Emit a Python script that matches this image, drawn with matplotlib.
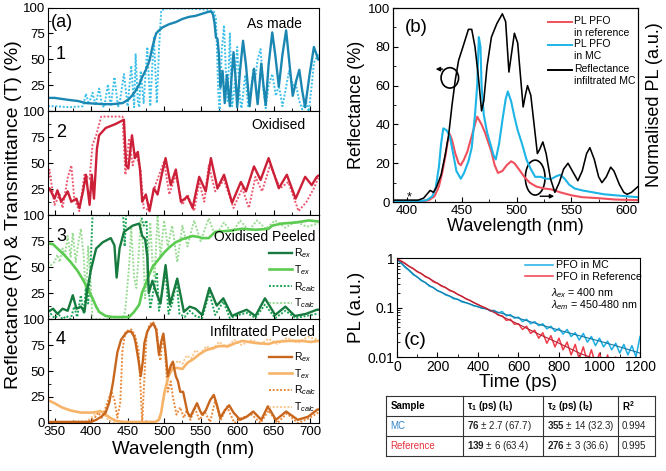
import matplotlib
matplotlib.use("Agg")
import matplotlib.pyplot as plt
from matplotlib.patches import Ellipse
from matplotlib.ticker import MultipleLocator, FixedLocator, NullFormatter

plt.rcParams["font.family"] = ["Liberation Sans", "DejaVu Sans"]
plt.rcParams["mathtext.fontset"] = "custom"
plt.rcParams["mathtext.rm"] = "Liberation Sans"
plt.rcParams["mathtext.it"] = "Liberation Sans:italic"
plt.rcParams["mathtext.bf"] = "Liberation Sans:bold"

# ---------------- panel (a) data: (wavelength nm, %) ----------------
AS_MADE_EX = [(341, 13), (350, 13), (360, 12), (370, 11), (382, 10), (393, 8), (405, 7.5), (416, 7), (430, 7),
              (443, 8), (448, 10), (452, 12), (457, 16), (462, 21), (466, 26), (470, 33), (475, 40), (480, 49),
              (484, 62), (489, 75), (493, 78), (498, 81), (507, 84), (516, 86), (525, 89), (534, 91), (543, 92),
              (552, 94), (561, 96), (565, 96), (567, 93), (569, 85), (571, 71), (573, 70), (575, 55), (577, 23),
              (580, 39), (583, 8), (586, 35), (590, 5), (592, 30), (595, 57), (598, 30), (600, 4), (604, 40),
              (608, 68), (612, 45), (617, 5), (620, 25), (623, 41), (626, 20), (628, 7), (631, 30), (633, 46),
              (636, 25), (639, 6), (643, 45), (648, 76), (652, 55), (657, 24), (662, 55), (667, 78), (671, 50),
              (676, 15), (681, 30), (685, 40), (689, 20), (693, 4), (699, 35), (705, 62), (711, 50)]
AS_MADE_CALC = [(341, 5), (350, 5), (370, 4), (389, 5), (393, 17), (397, 7), (402, 18), (406, 6), (411, 22),
                (415, 6), (418, 4), (423, 26), (427, 5), (432, 33), (437, 4), (440, 12), (445, 36), (450, 5),
                (455, 44), (459, 4), (461, 55), (464, 10), (466, 4), (468, 39), (472, 8), (477, 62), (481, 5),
                (486, 72), (490, 8), (493, 60), (496, 97), (502, 99), (530, 99), (561, 98), (568, 96), (571, 90),
                (574, 20), (576, 0), (579, 60), (582, 83), (585, 30), (587, 10), (590, 75), (593, 5), (596, 20),
                (600, 62), (604, 10), (606, 3), (611, 35), (615, 5), (618, 15), (622, 40), (625, 33), (628, 50),
                (632, 60), (636, 20), (639, 3), (643, 25), (648, 36), (653, 15), (657, 25), (662, 5), (666, 20),
                (671, 39), (676, 25), (680, 27), (685, 10), (689, 2), (694, 10), (698, 0), (702, 25), (705, 47),
                (711, 55)]

OXIDISED_EX = [(341, 23), (343, 26), (350, 16), (354, 24), (359, 13), (364, 18), (368, 23), (373, 13), (380, 16),
               (384, 7), (389, 23), (393, 39), (398, 10), (401, 39), (404, 16), (408, 64), (411, 77), (420, 84),
               (434, 88), (445, 92), (448, 48), (451, 45), (456, 77), (460, 55), (464, 61), (467, 44), (470, 13),
               (475, 20), (480, 4), (486, 26), (491, 20), (497, 40), (502, 55), (509, 29), (516, 44), (523, 13),
               (532, 18), (539, 7), (548, 37), (557, 23), (564, 55), (573, 26), (582, 39), (593, 12), (605, 32),
               (612, 23), (623, 47), (632, 34), (643, 55), (657, 26), (668, 39), (680, 16), (693, 37), (702, 29),
               (709, 37), (711, 38)]
OXIDISED_CALC = [(341, 32), (343, 44), (350, 10), (357, 20), (361, 7), (368, 36), (373, 48), (377, 16), (384, 4),
                 (391, 39), (398, 35), (402, 68), (407, 77), (414, 95), (443, 95), (447, 39), (452, 74), (457, 48),
                 (461, 61), (468, 42), (472, 7), (479, 5), (488, 29), (500, 52), (507, 20), (516, 39), (525, 10),
                 (532, 20), (541, 4), (548, 32), (555, 13), (561, 48), (570, 23), (582, 34), (595, 7), (607, 26),
                 (616, 7), (625, 37), (634, 23), (645, 48), (659, 26), (670, 32), (684, 4), (695, 13), (705, 26),
                 (711, 36)]

OXP_REX = [(341, 7), (348, 10), (354, 5), (361, 10), (368, 8), (375, 23), (380, 10), (386, 12), (391, 7),
           (395, 29), (400, 48), (407, 68), (416, 74), (427, 78), (432, 71), (435, 40), (439, 68), (445, 84),
           (457, 90), (466, 92), (470, 80), (474, 77), (477, 60), (479, 25), (484, 37), (488, 28), (495, 15),
           (502, 52), (508, 14), (518, 39), (527, 7), (535, 12), (543, 10), (552, 4), (562, 30), (572, 13),
           (581, 20), (593, 3), (602, 6), (613, 9), (625, 3), (638, 20), (652, 4), (666, 12), (679, 3), (694, 5),
           (709, 9), (711, 9)]
OXP_TEX = [(341, 73), (348, 72), (354, 68), (363, 62), (372, 55), (381, 47), (388, 39), (395, 30), (402, 20),
           (407, 12), (411, 7), (420, 3), (430, 2), (443, 2), (452, 2), (459, 7), (466, 14), (470, 26), (475, 34),
           (479, 42), (484, 50), (493, 58), (500, 64), (507, 69), (516, 74), (525, 77), (539, 80), (548, 79),
           (552, 78), (561, 78), (570, 84), (588, 85), (607, 87), (625, 86), (643, 87), (648, 90), (661, 92),
           (680, 93), (698, 95), (711, 94)]
OXP_RCALC = [(341, 2), (345, 5), (350, 1), (356, 4), (361, 0), (366, 3), (372, 0), (377, 12), (381, 2), (386, 23),
             (390, 5), (393, 30), (396, 15), (399, 45), (402, 100), (444, 100), (446, 70), (448, 100), (468, 100),
             (472, 90), (476, 95), (478, 40), (481, 10), (486, 30), (490, 45), (493, 8), (496, 20), (502, 47),
             (506, 5), (511, 15), (517, 37), (521, 5), (528, 2), (535, 8), (543, 3), (552, 1), (562, 25), (570, 4),
             (581, 17), (590, 1), (602, 4), (613, 6), (625, 1), (638, 14), (652, 1), (666, 8), (680, 1), (694, 3),
             (709, 5), (711, 5)]
OXP_TCALC = [(341, 55), (345, 52), (350, 55), (354, 62), (357, 55), (361, 68), (364, 60), (368, 80), (372, 60),
             (375, 83), (379, 55), (383, 75), (386, 87), (390, 60), (393, 20), (396, 70), (399, 40), (402, 0),
             (444, 0), (447, 10), (452, 50), (455, 87), (459, 40), (462, 30), (465, 60), (468, 96), (471, 70),
             (474, 20), (477, 50), (481, 93), (484, 55), (487, 40), (491, 100), (495, 60), (500, 95), (505, 70),
             (511, 90), (518, 55), (525, 90), (532, 70), (541, 95), (550, 75), (561, 97), (570, 80), (582, 93),
             (593, 83), (604, 95), (616, 85), (627, 95), (639, 87), (652, 95), (666, 88), (680, 94), (695, 89),
             (711, 92)]

INF_REX = [(341, 1), (360, 1), (380, 1), (400, 1), (407, 3), (414, 6), (420, 10), (425, 20), (430, 39), (436, 68),
           (441, 80), (445, 84), (450, 88), (455, 88), (459, 83), (461, 77), (465, 60), (468, 45), (471, 60),
           (473, 77), (477, 88), (480, 92), (485, 96), (489, 90), (493, 66), (496, 78), (499, 86), (502, 68),
           (505, 45), (509, 55), (512, 59), (516, 45), (519, 40), (522, 30), (526, 30), (529, 20), (532, 10),
           (536, 6), (540, 12), (545, 19), (549, 12), (552, 8), (557, 12), (563, 22), (568, 27), (572, 18),
           (577, 5), (583, 12), (589, 17), (595, 10), (604, 3), (613, 6), (622, 11), (633, 3), (642, 16),
           (653, 3), (667, 11), (683, 3), (697, 6), (710, 13), (711, 13)]
INF_TEX = [(341, 22), (350, 19), (360, 15), (372, 12), (386, 10), (402, 10), (410, 11), (414, 11), (420, 8),
           (426, 5), (434, 2), (445, 1), (470, 1), (488, 1), (493, 3), (496, 10), (500, 28), (506, 45), (512, 53),
           (518, 53), (525, 52), (532, 58), (539, 61), (548, 66), (557, 70), (566, 72), (575, 74), (588, 74),
           (598, 77), (607, 79), (625, 77), (643, 76), (652, 78), (670, 79), (689, 79), (700, 78), (711, 79)]
INF_RCALC = [(341, 0), (370, 0), (395, 1), (405, 5), (410, 10), (415, 5), (420, 15), (425, 25), (428, 30),
             (432, 22), (436, 5), (440, 20), (443, 70), (447, 88), (455, 90), (460, 85), (465, 70), (468, 30),
             (470, 0), (472, 30), (476, 85), (480, 95), (485, 97), (490, 90), (493, 65), (495, 60), (498, 85),
             (501, 70), (505, 30), (509, 40), (512, 25), (517, 8), (522, 15), (527, 5), (531, 12), (536, 3),
             (542, 15), (548, 3), (556, 10), (563, 1), (570, 22), (577, 2), (586, 16), (596, 0), (606, 5), (620, 8),
             (632, 0), (643, 12), (655, 0), (668, 9), (683, 0), (697, 4), (711, 10)]
INF_TCALC = [(341, 1), (370, 1), (395, 2), (405, 8), (412, 12), (417, 10), (422, 4), (428, 1), (435, 0), (485, 0),
             (490, 2), (495, 8), (500, 25), (504, 42), (508, 50), (513, 55), (519, 60), (525, 57), (531, 65),
             (537, 62), (543, 70), (550, 67), (558, 74), (566, 70), (575, 78), (586, 73), (596, 80), (606, 75),
             (620, 80), (632, 76), (643, 81), (655, 76), (668, 82), (683, 77), (697, 83), (711, 80)]

# ---------------- panel (b) data ----------------
REFL_INF_MC = [(387, 1), (400, 1), (410, 1), (415, 2), (418, 4), (421, 6), (424, 5), (427, 8), (431, 14), (435, 25),
               (438, 35), (441, 50), (444, 63), (447, 73), (451, 80), (456, 89), (459, 89), (462, 80), (465, 65),
               (468, 47), (470, 52), (473, 70), (477, 85), (482, 92), (487, 97), (490, 93), (493, 67), (495, 75),
               (498, 87), (501, 82), (504, 62), (506, 49), (508, 55), (510, 60), (513, 55), (516, 40), (519, 25),
               (521, 27), (524, 31), (527, 25), (531, 12), (535, 5), (539, 10), (543, 17), (547, 20), (551, 16),
               (556, 11), (560, 16), (564, 25), (567, 28), (571, 22), (575, 13), (578, 10), (582, 13), (586, 18),
               (589, 16), (594, 9), (598, 5), (601, 4), (605, 5), (611, 8)]
PL_MC = [(387, 0.5), (400, 0.5), (412, 0.5), (418, 1), (423, 3), (426, 7), (429, 18), (431, 30), (433, 38),
         (436, 37), (439, 34), (442, 25), (445, 16), (449, 12), (452, 15), (456, 21), (459, 28), (462, 45), (464, 60),
         (465.5, 85), (467, 80), (468, 60), (470, 45), (473, 36), (476, 30), (479, 24), (481, 22), (484, 30),
         (487, 42), (490, 53), (492, 57), (495, 52), (498, 44), (501, 37), (505, 30), (509, 22), (513, 17),
         (517, 13), (522, 13), (527, 12), (532, 12), (537, 13.5), (540, 14), (544, 12), (548, 9), (553, 7),
         (560, 6), (570, 5), (580, 4), (590, 3.5), (600, 3), (611, 2.5)]
PL_REF = [(387, 0.3), (400, 0.3), (415, 0.5), (420, 1), (425, 3), (429, 8), (432, 15), (435, 24), (437, 31),
          (439, 35), (441, 32), (444, 25), (447, 20), (449, 19), (452, 22), (455, 26), (458, 32), (461, 38),
          (464, 44), (466, 42), (468, 40), (471, 36), (474, 31), (477, 26), (480, 19), (483, 15), (487, 16),
          (491, 19), (495, 21), (498, 20), (502, 17), (507, 13), (512, 10), (518, 8), (525, 7), (532, 6.5),
          (540, 5), (550, 3.5), (560, 2.5), (575, 2), (590, 1.3), (611, 1)]

# ---------------- panel (c) data ----------------
TIME_PS = [0, 20, 40, 60, 80, 100, 120, 140, 160, 180, 200, 220, 240, 260, 280, 300, 320, 340, 360, 380, 400,
           420, 440, 460, 480, 500, 520, 540, 560, 580, 600, 620, 640, 660, 680, 700, 720, 740, 760, 780, 800,
           820, 840, 860, 880, 900, 920, 940, 960, 980, 1000, 1020, 1040, 1060, 1080, 1100, 1120, 1140, 1160,
           1180, 1200]
PL_T_MC = [0.93, 0.80, 0.65, 0.56, 0.46, 0.42, 0.35, 0.32, 0.27, 0.255, 0.22, 0.205, 0.18, 0.17, 0.15, 0.148,
           0.13, 0.125, 0.118, 0.108, 0.105, 0.096, 0.097, 0.085, 0.088, 0.078, 0.083, 0.068, 0.072, 0.061, 0.064,
           0.052, 0.058, 0.047, 0.052, 0.043, 0.047, 0.037, 0.042, 0.033, 0.038, 0.029, 0.036, 0.026, 0.031,
           0.022, 0.030, 0.020, 0.026, 0.017, 0.024, 0.016, 0.021, 0.014, 0.019, 0.012, 0.018, 0.011, 0.017,
           0.010, 0.026]
PL_T_REF = [0.97, 0.88, 0.79, 0.68, 0.62, 0.53, 0.49, 0.42, 0.39, 0.33, 0.31, 0.27, 0.255, 0.22, 0.21, 0.185,
            0.17, 0.15, 0.14, 0.125, 0.115, 0.105, 0.097, 0.088, 0.085, 0.07, 0.068, 0.055, 0.058, 0.046, 0.047,
            0.036, 0.042, 0.030, 0.035, 0.024, 0.031, 0.019, 0.027, 0.016, 0.024, 0.014, 0.020, 0.011, 0.018,
            0.009, 0.016, 0.008, 0.014, 0.007, 0.012, 0.006, 0.011, 0.005, 0.010, 0.005, 0.009, 0.004, 0.008,
            0.004, 0.007]
FIT_T = [0, 100, 200, 300, 400, 500, 600, 700, 800, 900, 1000, 1100, 1200]
FIT_MC = [0.95, 0.41, 0.22, 0.145, 0.103, 0.08, 0.061, 0.046, 0.035, 0.027, 0.021, 0.016, 0.012]
FIT_REF = [0.97, 0.54, 0.31, 0.185, 0.115, 0.072, 0.046, 0.029, 0.019, 0.012, 0.0085, 0.006, 0.0045]

TABLE_HEADER = ["Sample", r"$\mathbf{\tau_1\ (ps)\ (I_1)}$", r"$\mathbf{\tau_2\ (ps)\ (I_2)}$", r"$\mathbf{R^2}$"]
TABLE_ROWS = [["MC", r"$\mathbf{76}$ ± 2.7 (67.7)", r"$\mathbf{355}$ ± 14 (32.3)", "0.994"],
              ["Reference", r"$\mathbf{139}$ ± 6 (63.4)", r"$\mathbf{276}$ ± 3 (36.6)", "0.995"]]
TABLE_ROW_COLORS = ["#2f86c8", "#e8303c"]


def split(pairs):
    x, y = zip(*pairs)
    return list(x), list(y)


DOT = (0, (1, 0.9))

# each sub-panel: number, title, title y, curves (data, colour, style, lw, label)
PANELS_A = [
    ("1", "As made", 84, [(AS_MADE_CALC, "#3fc0ea", DOT, 1.4, None),
                          (AS_MADE_EX, "#1a86b2", "-", 1.7, None)]),
    ("2", "Oxidised", 87, [(OXIDISED_CALC, "#ec5a72", DOT, 1.4, None),
                           (OXIDISED_EX, "#cc2038", "-", 1.7, None)]),
    ("3", "Oxidised Peeled", 79, [(OXP_TCALC, "#9bdc95", DOT, 1.4, r"T$_{calc}$"),
                                  (OXP_RCALC, "#1ea456", DOT, 1.4, r"R$_{calc}$"),
                                  (OXP_TEX, "#5ccb52", "-", 1.9, r"T$_{ex}$"),
                                  (OXP_REX, "#177a3e", "-", 1.7, r"R$_{ex}$")]),
    ("4", "Infiltrated Peeled", 88, [(INF_TCALC, "#f9c78c", DOT, 1.4, r"T$_{calc}$"),
                                     (INF_RCALC, "#e98a3c", DOT, 1.4, r"R$_{calc}$"),
                                     (INF_TEX, "#f7b469", "-", 1.9, r"T$_{ex}$"),
                                     (INF_REX, "#c8661e", "-", 1.7, r"R$_{ex}$")]),
]

fig = plt.figure(figsize=(6.66, 4.71), dpi=100)

# ---------------- panel (a) ----------------
a_left, a_width, a_bottom, a_h = 0.072, 0.407, 0.102, 0.2205
axes_a = []
for i, (num, title, ty, curves) in enumerate(PANELS_A):
    ax = fig.add_axes([a_left, a_bottom + (3 - i) * a_h, a_width, a_h])
    axes_a.append(ax)
    handles = {}
    for data, color, ls, lw, label in curves:
        x, y = split(data)
        line, = ax.plot(x, y, color=color, linestyle=ls, lw=lw, label=label)
        if label:
            handles[label] = line
    ax.set_xlim(341, 712)
    ax.set_ylim(0, 100)
    ax.xaxis.set_major_locator(MultipleLocator(50))
    ax.xaxis.set_minor_locator(MultipleLocator(25))
    ax.yaxis.set_major_locator(FixedLocator([0, 25, 50, 75, 100]))
    ax.yaxis.set_minor_locator(MultipleLocator(12.5))
    if i < 3:
        ax.set_yticklabels(["", "25", "50", "75", "100"])
        ax.xaxis.set_major_formatter(NullFormatter())
    else:
        ax.set_yticklabels(["0", "25", "50", "75", "100"])
    ax.tick_params(which="both", direction="in", labelsize=9.5, pad=2)
    ax.tick_params(which="major", length=3.5)
    ax.tick_params(which="minor", length=2)
    ax.text(359, 55 if i == 0 else 80, num, fontsize=13, ha="center", va="center")
    ax.text(707 if i >= 2 else (688 if i == 0 else 694), ty, title, fontsize=10, ha="right", va="center")
    if handles:
        order = [r"R$_{ex}$", r"T$_{ex}$", r"R$_{calc}$", r"T$_{calc}$"]
        ax.legend([handles[k] for k in order], order, loc="upper left", bbox_to_anchor=(0.815, 0.70),
                  frameon=False, fontsize=7.5, handlelength=2.2, handletextpad=0.25, labelspacing=0.28,
                  borderpad=0, borderaxespad=0)
axes_a[0].text(345, 86, "(a)", fontsize=13, ha="left", va="center")
axes_a[3].set_xlabel("Wavelength (nm)", fontsize=13.5, labelpad=2)
fig.text(0.021, 0.545, "Reflectance (R) & Transmittance (T) (%)", rotation=90, fontsize=14,
         ha="center", va="center")

# ---------------- panel (b) ----------------
ax_b = fig.add_axes([0.590, 0.571, 0.368, 0.412])
x, y = split(PL_REF)
ax_b.plot(x, y, color="#f0505c", lw=1.5)
x, y = split(PL_MC)
ax_b.plot(x, y, color="#1db4e6", lw=1.5)
x, y = split(REFL_INF_MC)
ax_b.plot(x, y, color="black", lw=1.15)
ax_b.set_xlim(387, 611)
ax_b.set_ylim(0, 100)
ax_b.xaxis.set_major_locator(MultipleLocator(50))
ax_b.xaxis.set_minor_locator(MultipleLocator(25))
ax_b.yaxis.set_major_locator(MultipleLocator(20))
ax_b.yaxis.set_minor_locator(MultipleLocator(10))
ax_b.tick_params(which="both", direction="in", labelsize=9.5, pad=2)
ax_b.tick_params(which="major", length=3.5)
ax_b.tick_params(which="minor", length=2)
ax_b.set_xlabel("Wavelength (nm)", fontsize=13, labelpad=1)
ax_b.set_ylabel("Reflectance (%)", fontsize=13, labelpad=2)
ax_b2 = ax_b.twinx()
ax_b2.set_yticks([])
ax_b2.set_ylabel("Normalised PL (a.u.)", fontsize=13, labelpad=6)
ax_b.text(398, 90, "(b)", fontsize=13.5, ha="left", va="center")
ax_b.text(402, 2.5, "*", fontsize=9, ha="center", va="center")
ax_b.add_patch(Ellipse((439, 64), 16, 10.5, fill=False, lw=1.2, color="black"))
ax_b.add_patch(Ellipse((517, 12.6), 18, 18, fill=False, lw=1.2, color="black"))
ax_b.annotate("", xy=(423.5, 68.5), xytext=(435, 68.5),
              arrowprops=dict(arrowstyle="-|>", color="black", lw=1, mutation_scale=6))
ax_b.annotate("", xy=(537, 3), xytext=(519, 3),
              arrowprops=dict(arrowstyle="-|>", color="black", lw=1, mutation_scale=6))
leg_b = [("#f0505c", "PL PFO\nin reference", 0.93), ("#1db4e6", "PL PFO\nin MC", 0.81),
         ("black", "Reflectance\ninfiltrated MC", 0.68)]
for color, label, yy in leg_b:
    ax_b.plot([0.633, 0.731], [yy, yy], color=color, lw=1.4, transform=ax_b.transAxes)
    ax_b.text(0.738, yy + 0.03, label, fontsize=7.5, ha="left", va="top", linespacing=1.25,
              transform=ax_b.transAxes)

# ---------------- panel (c) ----------------
ax_c = fig.add_axes([0.596, 0.242, 0.365, 0.210])
ax_c.plot(TIME_PS, PL_T_MC, color="#1eaee2", lw=1.1, label="PFO in MC")
ax_c.plot(TIME_PS, PL_T_REF, color="#f03c4a", lw=1.1, label="PFO in Reference")
ax_c.plot(FIT_T, FIT_MC, color="#137aa6", lw=0.8)
ax_c.plot(FIT_T, FIT_REF, color="#b42233", lw=0.8)
ax_c.set_yscale("log")
ax_c.set_xlim(0, 1200)
ax_c.set_ylim(0.01, 1)
ax_c.set_yticks([0.01, 0.1, 1])
ax_c.set_yticklabels(["0.01", "0.1", "1"])
ax_c.xaxis.set_major_locator(MultipleLocator(200))
ax_c.xaxis.set_minor_locator(MultipleLocator(100))
ax_c.yaxis.set_minor_formatter(NullFormatter())
ax_c.tick_params(which="both", direction="in", labelsize=10, pad=2)
ax_c.tick_params(which="major", length=3.5)
ax_c.tick_params(which="minor", length=2)
ax_c.set_xlabel("Time (ps)", fontsize=13.5, labelpad=0)
ax_c.set_ylabel("PL (a.u.)", fontsize=13.5, labelpad=2)
ax_c.legend(loc="upper left", bbox_to_anchor=(0.52, 1.0), frameon=False, fontsize=7.7,
            handlelength=2.6, handletextpad=0.25, labelspacing=0.15, borderpad=0.2, borderaxespad=0)
ax_c.text(0.632, 0.65, r"$\lambda_{ex}$ = 400 nm", fontsize=7.7, ha="left", va="center",
          transform=ax_c.transAxes)
ax_c.text(0.632, 0.52, r"$\lambda_{em}$ = 450-480 nm", fontsize=7.7, ha="left", va="center",
          transform=ax_c.transAxes)
ax_c.text(90, 0.022, "(c)", fontsize=14, ha="center", va="center")

# ---------------- table ----------------
ax_t = fig.add_axes([0.580, 0.032, 0.403, 0.127])
ax_t.set_xlim(0, 1)
ax_t.set_ylim(0, 3)
ax_t.axis("off")
col_edges = [0, 0.286, 0.584, 0.862, 1]
for xe in col_edges:
    ax_t.plot([xe, xe], [0, 3], color="#333333", lw=0.8, clip_on=False)
for ye in [0, 1, 2, 3]:
    ax_t.plot([0, 1], [ye, ye], color="#333333", lw=0.8, clip_on=False)
for j, txt in enumerate(TABLE_HEADER):
    ax_t.text(col_edges[j] + 0.015, 2.5, txt, fontsize=7, fontweight="bold", ha="left", va="center")
for r, row in enumerate(TABLE_ROWS):
    for j, txt in enumerate(row):
        ax_t.text(col_edges[j] + 0.015, 1.5 - r, txt, fontsize=7, ha="left", va="center",
                  color=TABLE_ROW_COLORS[r] if j == 0 else "#222222")

fig.savefig("out.png", dpi=100)
